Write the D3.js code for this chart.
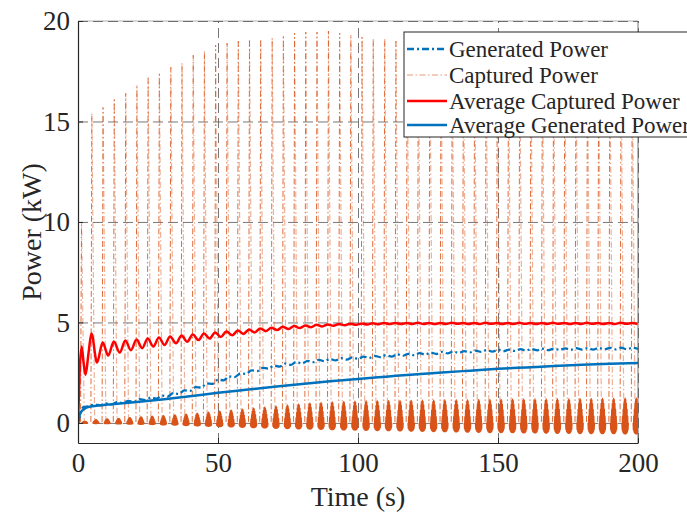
<!DOCTYPE html>
<html>
<head>
<meta charset="utf-8">
<script src="https://cdn.jsdelivr.net/npm/d3@7"></script>
<style>
  body { margin: 0; background: #fff; }
  text { font-family: "Liberation Serif", serif; fill: #262626; }
</style>
</head>
<body>
<svg id="chart"></svg>
<script>
// ---- data ----
var xTicks = [0, 50, 100, 150, 200];
var yTicks = [0, 5, 10, 15, 20];
var legendNames = ["Generated Power", "Captured Power", "Average Captured Power", "Average Generated Power"];

// captured power: one tall spike per wave cycle (time of spike, peak value, kW)
var spikeTimes = [0.9, 4.6, 8.6, 12.6, 16.7, 20.7, 24.7, 28.7, 32.8, 36.8, 40.8, 44.8, 48.8, 52.9, 56.9, 60.9,
  64.9, 69.0, 73.0, 77.0, 81.0, 85.0, 89.1, 93.1, 97.1, 101.1, 105.1, 109.2, 113.2, 117.2, 121.2, 125.3,
  129.3, 133.3, 137.3, 141.3, 145.4, 149.4, 153.4, 157.4, 161.4, 165.5, 169.5, 173.5, 177.5, 181.6, 185.6,
  189.6, 193.6, 197.6];
var spikePeaks = [10.0, 15.4, 15.7, 16.1, 16.4, 16.8, 17.2, 17.4, 17.7, 17.9, 18.3, 18.5, 18.8, 18.9, 19.0, 19.05,
  19.05, 19.15, 19.25, 19.4, 19.45, 19.45, 19.5, 19.4, 19.3, 19.2, 19.1, 19.1, 19.0, 18.95, 18.9, 18.85,
  18.8, 18.75, 18.7, 18.65, 18.6, 18.55, 18.5, 18.45, 18.4, 18.35, 18.3, 18.3, 18.25, 18.2, 18.2,
  18.15, 18.1, 18.1];

// captured power: dense low-level oscillation between spikes
var blobTimes = [2.4, 6.4, 10.4, 14.5, 18.5, 22.5, 26.5, 30.5, 34.6, 38.6, 42.6, 46.6, 50.6, 54.7, 58.7, 62.7,
  66.7, 70.7, 74.8, 78.8, 82.8, 86.8, 90.8, 94.9, 98.9, 102.9, 106.9, 110.9, 115.0, 119.0, 123.0, 127.0,
  131.0, 135.1, 139.1, 143.1, 147.1, 151.1, 155.2, 159.2, 163.2, 167.2, 171.2, 175.3, 179.3, 183.3, 187.3,
  191.3, 195.4, 199.4];
var blobTops = [0.08, 0.16, 0.2, 0.23, 0.26, 0.3, 0.33, 0.36, 0.4, 0.44, 0.48, 0.53, 0.58, 0.63, 0.68, 0.73,
  0.78, 0.83, 0.88, 0.93, 0.98, 1.01, 1.04, 1.06, 1.08, 1.09, 1.1, 1.11, 1.11, 1.12, 1.13, 1.13,
  1.14, 1.15, 1.15, 1.16, 1.16, 1.17, 1.18, 1.18, 1.19, 1.19, 1.2, 1.2, 1.21, 1.21, 1.22,
  1.22, 1.23, 1.23];
var blobBottoms = [-0.02, -0.03, -0.04, -0.05, -0.06, -0.07, -0.08, -0.1, -0.11, -0.13, -0.15, -0.17, -0.19, -0.2, -0.22, -0.24,
  -0.25, -0.27, -0.28, -0.3, -0.31, -0.32, -0.34, -0.35, -0.36, -0.37, -0.38, -0.39, -0.4, -0.41, -0.42, -0.43,
  -0.44, -0.45, -0.46, -0.47, -0.48, -0.48, -0.49, -0.5, -0.5, -0.51, -0.52, -0.52, -0.53, -0.53, -0.54,
  -0.54, -0.55, -0.55];

// generated power (dash-dot blue), every 2 s
var genTime = d3.range(0, 201, 2);
var genValues = [0, 0.80, 0.83, 0.92, 0.87, 0.97, 0.92, 1.03, 0.98, 1.10, 1.05, 1.18, 1.13, 1.26, 1.21, 1.36,
  1.31, 1.48, 1.44, 1.62, 1.59, 1.78, 1.76, 1.96, 1.94, 2.15, 2.12, 2.31, 2.28, 2.46, 2.44, 2.61,
  2.58, 2.74, 2.70, 2.85, 2.80, 2.95, 2.89, 3.03, 2.96, 3.09, 3.02, 3.14, 3.07, 3.18, 3.11, 3.22,
  3.15, 3.26, 3.19, 3.30, 3.23, 3.34, 3.27, 3.37, 3.30, 3.41, 3.34, 3.44, 3.37, 3.47, 3.40, 3.50,
  3.43, 3.53, 3.46, 3.55, 3.48, 3.57, 3.51, 3.60, 3.53, 3.62, 3.55, 3.64, 3.57, 3.65, 3.58, 3.67,
  3.60, 3.68, 3.61, 3.69, 3.62, 3.70, 3.63, 3.71, 3.64, 3.72, 3.65, 3.72, 3.65, 3.73, 3.66, 3.73,
  3.66, 3.74, 3.67, 3.74, 3.68];

// average generated power (solid blue)
var avgGenTime = [0, 0.5, 1, 2, 3, 5, 8, 12, 20, 30, 40, 50, 60, 70, 80, 90, 100, 110, 120, 130, 140, 150, 160, 170, 180, 190, 200];
var avgGenValues = [0, 0.35, 0.52, 0.68, 0.76, 0.83, 0.88, 0.93, 1.03, 1.17, 1.33, 1.5, 1.65, 1.8, 1.94, 2.07, 2.19, 2.3, 2.41, 2.51, 2.6, 2.69, 2.76, 2.83, 2.89, 2.94, 2.98];

// average captured power (solid red), peaks and troughs
var avgCapTime = [0, 0.6, 1.3, 2.0, 2.7, 3.7,
  4.8, 6.8, 8.8, 10.8, 12.8, 14.9, 16.9, 18.9, 20.9, 22.9, 24.9, 26.9, 28.9, 30.9, 32.9, 35.0,
  37.0, 39.0, 41.0, 43.0, 45.0, 47.0, 49.0, 51.0, 53.0, 55.1, 57.1, 59.1, 61.1, 63.1, 65.1, 67.1,
  69.1, 71.1, 73.1, 75.2, 77.2, 79.2, 81.2, 83.2, 85.2, 87.2, 89.2, 91.2, 93.2, 95.3, 97.3, 99.3,
  101.3, 103.3, 105.3, 107.3, 109.3, 111.3, 113.3, 115.4, 117.4, 119.4, 121.4, 123.4, 125.4, 127.4,
  129.4, 131.4, 133.4, 135.5, 137.5, 139.5, 141.5, 143.5, 145.5, 147.5, 149.5, 151.5, 153.5, 155.6,
  157.6, 159.6, 161.6, 163.6, 165.6, 167.6, 169.6, 171.6, 173.6, 175.7, 177.7, 179.7, 181.7, 183.7,
  185.7, 187.7, 189.7, 191.7, 193.7, 195.8, 197.8, 199.8];
var avgCapValues = [0, 2.6, 3.8, 3.0, 2.4, 3.4,
  4.45, 3.0, 4.0, 3.35, 4.05, 3.5, 4.1, 3.62, 4.15, 3.72, 4.2, 3.8, 4.25, 3.88, 4.3, 3.96,
  4.35, 4.04, 4.4, 4.12, 4.45, 4.2, 4.5, 4.28, 4.55, 4.36, 4.6, 4.43, 4.65, 4.5, 4.7, 4.56,
  4.74, 4.62, 4.78, 4.67, 4.82, 4.72, 4.85, 4.76, 4.88, 4.8, 4.9, 4.83, 4.92, 4.86, 4.94, 4.88,
  4.95, 4.9, 4.96, 4.91, 4.97, 4.92, 4.97, 4.92, 4.97, 4.92, 4.98, 4.92, 4.97, 4.92,
  4.97, 4.92, 4.98, 4.93, 4.97, 4.92, 4.97, 4.92, 4.98, 4.93, 4.97, 4.92, 4.97, 4.92,
  4.98, 4.93, 4.97, 4.92, 4.97, 4.92, 4.98, 4.93, 4.97, 4.92, 4.97, 4.92, 4.98, 4.93,
  4.97, 4.92, 4.97, 4.92, 4.98, 4.93, 4.97, 4.92];

// ---- layout ----
var width = 687, height = 514;
var margins = { top: 21, right: 49, bottom: 71, left: 78 };
var plotW = width - margins.left - margins.right;
var plotH = height - margins.top - margins.bottom;

var orange = "#D95319", blue = "#0072BD", red = "#FF0000", axisColor = "#262626";
var serif = "Liberation Serif, serif";

var svg = d3.select("#chart").attr("width", width).attr("height", height);

var xScale = d3.scaleLinear().domain([0, 200]).range([0, plotW]);
var yScale = d3.scaleLinear().domain([-1, 20]).range([plotH, 0]);

var plot = svg.append("g").attr("transform", "translate(" + margins.left + "," + margins.top + ")");

svg.append("defs").append("clipPath").attr("id", "clip")
  .append("rect").attr("x", 0).attr("y", 0).attr("width", plotW).attr("height", plotH);

// light box on top / right
plot.append("line").attr("x1", 0).attr("x2", plotW).attr("y1", 0).attr("y2", 0)
  .attr("stroke", "#b0b0b0").attr("stroke-width", 1);
plot.append("line").attr("x1", plotW).attr("x2", plotW).attr("y1", 0).attr("y2", plotH)
  .attr("stroke", "#8a8a8a").attr("stroke-width", 1.2);

// grid
plot.append("g")
  .attr("class", "grid")
  .call(d3.axisBottom(xScale).tickValues(xTicks).tickSize(-plotH).tickFormat(""))
  .attr("transform", "translate(0," + plotH + ")")
  .call(function(g) { g.select(".domain").remove(); });
plot.append("g")
  .attr("class", "grid")
  .call(d3.axisLeft(yScale).tickValues(yTicks).tickSize(-plotW).tickFormat(""))
  .call(function(g) { g.select(".domain").remove(); });
plot.selectAll(".grid line")
  .attr("stroke", "#555").attr("stroke-opacity", 0.8)
  .attr("stroke-width", 1).attr("stroke-dasharray", "10,5");

var lines = plot.append("g").attr("clip-path", "url(#clip)");

var drawLine = d3.line()
  .x(function(d) { return xScale(d[0]); })
  .y(function(d) { return yScale(d[1]); });

// captured power spikes
var spikeData = d3.zip(spikeTimes, spikePeaks);

lines.selectAll(".spike-up")
  .data(spikeData)
  .enter()
  .append("path")
  .attr("d", function(d) { return drawLine([[d[0], 0.05], [d[0] + 0.35, d[1]]]); })
  .attr("fill", "none").attr("stroke", orange).attr("stroke-opacity", 0.85)
  .attr("stroke-width", 1).attr("stroke-dasharray", "6,2.5,1.5,2.5");

lines.selectAll(".spike-down")
  .data(spikeData)
  .enter()
  .append("path")
  .attr("d", function(d) { return drawLine([[d[0] + 0.35, d[1]], [d[0] + 1.35, 0.05]]); })
  .attr("fill", "none").attr("stroke", orange).attr("stroke-opacity", 0.45)
  .attr("stroke-width", 1.2).attr("stroke-dasharray", "6,2.5,1.5,2.5")
  .attr("stroke-dashoffset", 4);

// dense low-level oscillation (drawn as zig-zag, flame shaped)
var blobData = d3.zip(blobTimes, blobTops, blobBottoms);
var blobWidth = 2.3, blobSteps = 20;
lines.selectAll(".blob")
  .data(blobData)
  .enter()
  .append("path")
  .attr("d", function(d) {
    var pts = d3.range(blobSteps + 1).map(function(j) {
      var u = j / blobSteps;
      var s = Math.sin(Math.PI * u);
      var v = j % 2 === 0 ? d[1] * Math.pow(s, 1.1) : d[2] * Math.pow(s, 0.25);
      return [d[0] - blobWidth / 2 + u * blobWidth, v];
    });
    return drawLine(pts);
  })
  .attr("fill", "none").attr("stroke", orange).attr("stroke-width", 1.3)
  .attr("stroke-linejoin", "round");

// generated power (dash-dot)
var smoothLine = d3.line()
  .curve(d3.curveMonotoneX)
  .x(function(d) { return xScale(d[0]); })
  .y(function(d) { return yScale(d[1]); });

lines.append("path")
  .datum(d3.zip(genTime, genValues))
  .attr("d", smoothLine)
  .attr("fill", "none").attr("stroke", blue).attr("stroke-width", 2.3)
  .attr("stroke-dasharray", "7,3,2,3");

// average captured power
lines.append("path")
  .datum(d3.zip(avgCapTime, avgCapValues))
  .attr("d", smoothLine)
  .attr("fill", "none").attr("stroke", red).attr("stroke-width", 2.5)
  .attr("stroke-linejoin", "round");

// average generated power
lines.append("path")
  .datum(d3.zip(avgGenTime, avgGenValues))
  .attr("d", smoothLine)
  .attr("fill", "none").attr("stroke", blue).attr("stroke-width", 2.5);

// axes
var xAxis = d3.axisBottom(xScale).tickValues(xTicks).tickSizeInner(-5).tickSizeOuter(0).tickPadding(10);
var yAxis = d3.axisLeft(yScale).tickValues(yTicks).tickSizeInner(-5).tickSizeOuter(0).tickPadding(8);

function styleAxis(g) {
  g.attr("font-family", serif).attr("font-size", 27);
  g.select(".domain").attr("stroke", axisColor).attr("stroke-width", 1.2);
  g.selectAll(".tick line").attr("stroke", axisColor);
  g.selectAll(".tick text").attr("fill", axisColor).attr("font-family", serif).attr("font-size", 27);
}

plot.append("g")
  .attr("transform", "translate(0," + plotH + ")")
  .call(xAxis)
  .call(styleAxis);

plot.append("g")
  .call(yAxis)
  .call(styleAxis);

// axis titles
svg.append("text")
  .attr("x", margins.left + plotW / 2)
  .attr("y", 506)
  .attr("text-anchor", "middle")
  .attr("font-family", serif)
  .attr("font-size", 28)
  .text("Time (s)");

svg.append("text")
  .attr("transform", "translate(41," + (margins.top + plotH / 2) + ") rotate(-90)")
  .attr("text-anchor", "middle")
  .attr("font-family", serif)
  .attr("font-size", 28)
  .text("Power (kW)");

// legend
var legend = svg.append("g").attr("transform", "translate(404,32)");
legend.append("rect")
  .attr("x", 0).attr("y", 0).attr("width", 300).attr("height", 105)
  .attr("fill", "#fff").attr("stroke", axisColor).attr("stroke-width", 1);

var legendStyles = [
  { color: blue, width: 2.3, dash: "7,3,2,3", opacity: 1 },
  { color: orange, width: 1, dash: "6,2.5,1.5,2.5", opacity: 0.6 },
  { color: red, width: 2.5, dash: null, opacity: 1 },
  { color: blue, width: 2.5, dash: null, opacity: 1 }
];
var rowY = [17, 43, 69, 93];

var rows = legend.selectAll(".row")
  .data(legendNames)
  .enter()
  .append("g")
  .attr("transform", function(d, i) { return "translate(0," + rowY[i] + ")"; });

rows.append("line")
  .attr("x1", 3).attr("x2", 43).attr("y1", 0).attr("y2", 0)
  .attr("stroke", function(d, i) { return legendStyles[i].color; })
  .attr("stroke-width", function(d, i) { return legendStyles[i].width; })
  .attr("stroke-opacity", function(d, i) { return legendStyles[i].opacity; })
  .attr("stroke-dasharray", function(d, i) { return legendStyles[i].dash; });

rows.append("text")
  .attr("x", 45).attr("y", 0).attr("dy", "0.33em")
  .attr("font-family", serif)
  .attr("font-size", 23)
  .text(function(d) { return d; });
</script>
</body>
</html>
